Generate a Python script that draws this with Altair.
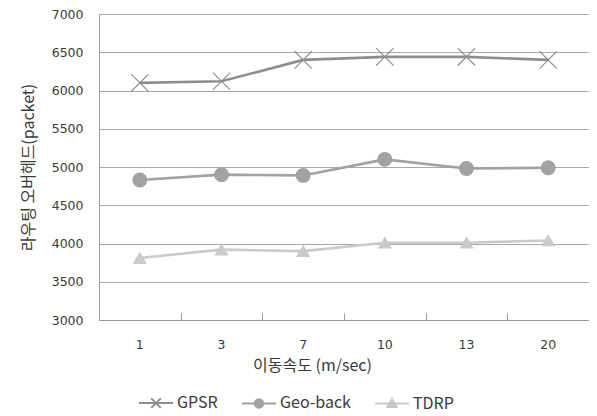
import altair as alt
import pandas as pd

speeds = ["1", "3", "7", "10", "13", "20"]
series_names = ["GPSR", "Geo-back", "TDRP"]
gpsr = [6100, 6120, 6400, 6440, 6440, 6400]
geoback = [4830, 4900, 4890, 5100, 4980, 4990]
tdrp = [3810, 3920, 3900, 4010, 4010, 4040]
y_ticks = [3000, 3500, 4000, 4500, 5000, 5500, 6000, 6500, 7000]

colors = ["#8e8e8e", "#a2a2a2", "#cacaca"]
marker_paths = [
    "M-1,-1L1,1M-1,1L1,-1",
    "circle",
    "triangle-up",
]
legend_paths = [
    "M-1,0H1M-0.28,-0.28L0.28,0.28M-0.28,0.28L0.28,-0.28",
    "M-1,0H1M-0.25,0A0.25,0.25 0 1,0 0.25,0A0.25,0.25 0 1,0 -0.25,0Z",
    "M-1,0H1M0,-0.27L0.27,0.2L-0.27,0.2Z",
]
marker_sizes = [300, 190, 150]

rows = []
for name, vals in zip(series_names, [gpsr, geoback, tdrp]):
    for s, v in zip(speeds, vals):
        rows.append({"speed": s, "value": v, "series": name})
df = pd.DataFrame(rows)

FONT = "Noto Sans CJK KR"
W, H = 490, 306

xscale = alt.Scale(type="band", domain=speeds, paddingInner=0, paddingOuter=0)
yscale = alt.Scale(domain=[3000, 7000], nice=False, zero=False)
stroke_scale = alt.Scale(domain=series_names, range=colors)
fill_scale = alt.Scale(domain=series_names, range=colors)

y_axis = alt.Axis(values=y_ticks, tickCount=9, format="d", labelOverlap=False,
                  title="라우팅 오버헤드(packet)", ticks=False,
                  labelPadding=16, labelFontSize=12.5, labelFont="DejaVu Sans",
                  labelColor="#3a3a3a", domainColor="#9a9a9a",
                  grid=True, gridColor="#a8a8a8", gridOpacity=1, gridWidth=1,
                  titleFont=FONT, titleFontSize=16, titleFontWeight="normal",
                  titleColor="#3a3a3a", titlePadding=15)

base = alt.Chart(df)

lines = base.mark_line(strokeWidth=2.6).encode(
    x=alt.X("speed:N", scale=xscale, sort=speeds,
            axis=alt.Axis(title="이동속도 (m/sec)", ticks=False, labelAngle=0,
                          labelPadding=18, labelFontSize=12.5, labelFont="DejaVu Sans",
                          labelColor="#3a3a3a", domainColor="#9a9a9a",
                          titleFont=FONT, titleFontSize=16, titleFontWeight="normal",
                          titleColor="#3a3a3a", titleX=213, titleY=50,
                          titleBaseline="alphabetic", titleAlign="center", grid=False)),
    y=alt.Y("value:Q", scale=yscale, axis=y_axis),
    stroke=alt.Stroke("series:N", scale=stroke_scale),
    detail="series:N",
)

marker_layers = []
for name, path, size in zip(series_names, marker_paths, marker_sizes):
    m = base.transform_filter(alt.datum.series == name).mark_point(
        filled=True, shape=path, size=size, strokeWidth=1.1, opacity=1
    ).encode(
        x=alt.X("speed:N", scale=xscale, sort=speeds, axis=None),
        y=alt.Y("value:Q", scale=yscale, axis=y_axis),
        fill=alt.Fill("series:N", scale=fill_scale),
        stroke=alt.Stroke("series:N", scale=stroke_scale),
    )
    marker_layers.append(m)

legend_layer = base.transform_filter("false").mark_point(
    filled=True, strokeWidth=2, opacity=1
).encode(
    x=alt.X("speed:N", scale=xscale, sort=speeds,
            axis=alt.Axis(orient="top", offset=-H, labels=False, domain=False,
                          ticks=True, tickBand="extent", tickSize=7, tickColor="#9a9a9a",
                          grid=False, title=None)),
    y=alt.Y("value:Q", scale=yscale, axis=y_axis),
    shape=alt.Shape("series:N", scale=alt.Scale(domain=series_names, range=legend_paths),
                    legend=alt.Legend(title=None, orient="none", direction="horizontal",
                                      legendX=39, legendY=371, symbolSize=1156,
                                      labelFont=FONT, labelFontSize=16, labelColor="#3a3a3a",
                                      labelOffset=3, columnPadding=20, symbolStrokeWidth=2,
                                      symbolOpacity=1)),
    fill=alt.Fill("series:N", scale=fill_scale),
    stroke=alt.Stroke("series:N", scale=stroke_scale),
)

chart = alt.layer(lines, *marker_layers, legend_layer).resolve_axis(
    x="independent"
).properties(
    width=W, height=H,
    autosize=alt.AutoSizeParams(type="none"),
    padding={"left": 91, "top": 6, "right": 0, "bottom": 96},
).configure_view(stroke=None).configure(background="white")

chart.save("out.html", embed_options={"renderer": "svg", "actions": False})
